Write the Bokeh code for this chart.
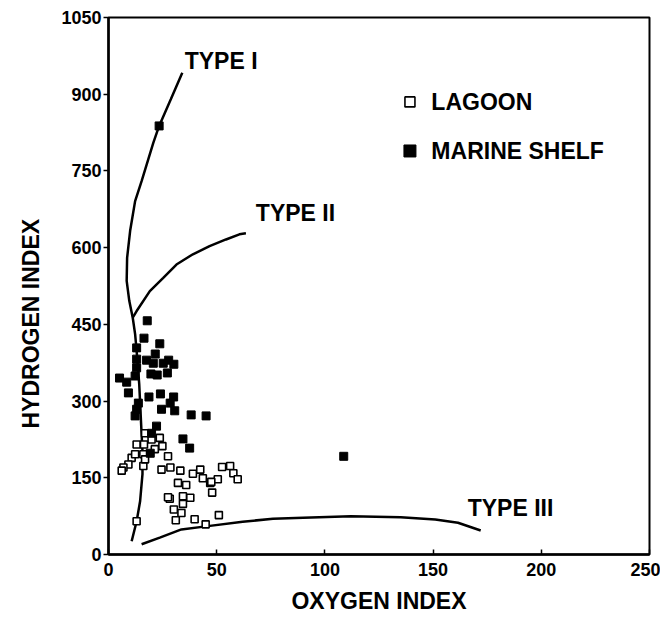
from bokeh.plotting import figure
from bokeh.models import Range1d, Label, FixedTicker, Title
from bokeh.embed import file_html
from bokeh.resources import INLINE

# Marine shelf (filled squares)
shelf_x = [17.9, 16.4, 23.7, 13.0, 21.6, 13.0, 17.6, 20.7, 25.3, 27.8, 30.2, 13.0,
           19.6, 22.5, 27.2, 12.3, 5.1, 8.4, 9.2, 13.8, 18.7, 24.0, 30.1, 28.5,
           13.0, 12.3, 24.5, 30.6, 38.2, 45.1, 22.2, 19.9, 34.4, 37.5, 19.3,
           108.7, 23.4]
shelf_y = [457, 423, 412, 404, 392, 382, 380, 374, 374, 380, 372, 365,
           353, 351, 355, 349, 345, 337, 316, 296, 308, 314, 308, 296,
           284, 271, 284, 281, 273, 271, 251, 237, 226, 208, 198,
           192, 838]

# Lagoon (open squares)
lagoon_x = [16.9, 19.9, 23.7, 13.0, 16.4, 21.4, 24.9, 16.1, 10.7, 27.5, 9.2, 6.9,
            16.1, 6.1, 16.9, 24.5, 28.6, 33.2, 39.0, 42.4, 43.6, 47.0, 50.5, 47.9,
            52.5, 56.2, 57.7, 59.7, 32.1, 35.9, 28.3, 27.5, 34.4, 37.8, 34.4, 30.2,
            33.7, 31.1, 39.8, 51.0, 44.9, 13.0, 47.5, 12.3]
lagoon_y = [237, 225, 228, 215, 215, 206, 212, 196, 189, 192, 176, 170,
            173, 164, 186, 166, 170, 164, 158, 166, 149, 140, 147, 121,
            171, 173, 159, 147, 140, 136, 109, 112, 114, 111, 99, 88,
            81, 67, 69, 77, 59, 65, 142, 196]

# Kerogen type pathways
type1_x = [34.1, 28.8, 23.4, 20.7, 15.3, 12.3, 10.0, 8.6, 8.4, 9.6, 11.2, 12.3,
           13.0, 14.2, 15.3, 15.7, 15.7, 14.6, 13.0, 10.7]
type1_y = [942, 890, 838, 805, 730, 691, 633, 580, 535, 496, 463, 431,
           398, 333, 235, 202, 157, 104, 65, 26]
type2_x = [11.2, 13.0, 19.1, 25.3, 31.4, 39.0, 46.7, 54.3, 60.5, 63.5]
type2_y = [463, 476, 515, 541, 567, 587, 603, 616, 626, 628]
type3_x = [15.3, 23.7, 33.7, 45.0, 62.0, 76.0, 90.0, 112.0, 135.0, 151.0, 161.5, 172.0]
type3_y = [20, 33, 49, 55, 64, 70, 72, 75, 73, 68.5, 62, 47]

x_ticks = [0, 50, 100, 150, 200, 250]
y_ticks = [0, 150, 300, 450, 600, 750, 900, 1050]

FONT = "Liberation Sans"

p = figure(width=660, height=620, output_backend="svg", toolbar_location=None,
           x_range=Range1d(0, 250), y_range=Range1d(0, 1050),
           min_border_left=105, min_border_right=11, min_border_top=17,
           min_border_bottom=66)
p.grid.visible = False
p.outline_line_color = "black"
p.outline_line_width = 2
p.background_fill_color = "white"
p.border_fill_color = "white"

for ax in (p.xaxis[0], p.yaxis[0]):
    ax.axis_line_width = 2.5
    ax.axis_line_color = "black"
    ax.minor_tick_line_color = None
    ax.major_tick_line_width = 1.5
    ax.major_label_text_font = FONT
    ax.major_label_text_font_style = "bold"
    ax.major_label_text_font_size = "18px"
    ax.major_label_text_color = "black"
    ax.axis_label_text_font = FONT
    ax.axis_label_text_font_style = "bold"
    ax.axis_label_text_font_size = "23px"
    ax.axis_label_text_color = "black"

p.xaxis.ticker = FixedTicker(ticks=x_ticks)
p.yaxis.ticker = FixedTicker(ticks=y_ticks)
p.xaxis.major_tick_in = 5
p.xaxis.major_tick_out = 0
p.yaxis.major_tick_in = 0
p.yaxis.major_tick_out = 5
p.xaxis.major_label_standoff = 8
p.yaxis.major_label_standoff = 2
p.xaxis.axis_label = "OXYGEN INDEX"
p.xaxis.axis_label_standoff = 9

p.add_layout(Title(text="HYDROGEN INDEX", align="left", offset=126,
                   text_font=FONT, text_font_style="bold", text_font_size="23px",
                   text_color="black", standoff=30), "left")

p.line(type1_x, type1_y, line_color="black", line_width=2.5)
p.line(type2_x, type2_y, line_color="black", line_width=2.5)
p.line(type3_x, type3_y, line_color="black", line_width=2.5)

p.scatter(lagoon_x, lagoon_y, marker="square", size=7, fill_color="white",
          line_color="black", line_width=1.6)
p.scatter(shelf_x, shelf_y, marker="square", size=8, fill_color="black",
          line_color="black", line_width=1)

# legend
p.scatter([139.3], [885], marker="square", size=10, fill_color="white",
          line_color="black", line_width=1.6)
p.scatter([139.3], [789], marker="square", size=12, fill_color="black",
          line_color="black")

def lab(x, y, t, size="23px"):
    p.add_layout(Label(x=x, y=y, text=t, text_font=FONT, text_font_style="bold",
                       text_font_size=size, text_color="black",
                       text_baseline="middle", text_align="left"))

lab(149.2, 885, "LAGOON")
lab(149.2, 789, "MARINE SHELF")
lab(35.2, 964, "TYPE I")
lab(68.1, 668, "TYPE II")
lab(166.0, 91, "TYPE III")

open("out.html", "w").write(file_html(p, INLINE))
